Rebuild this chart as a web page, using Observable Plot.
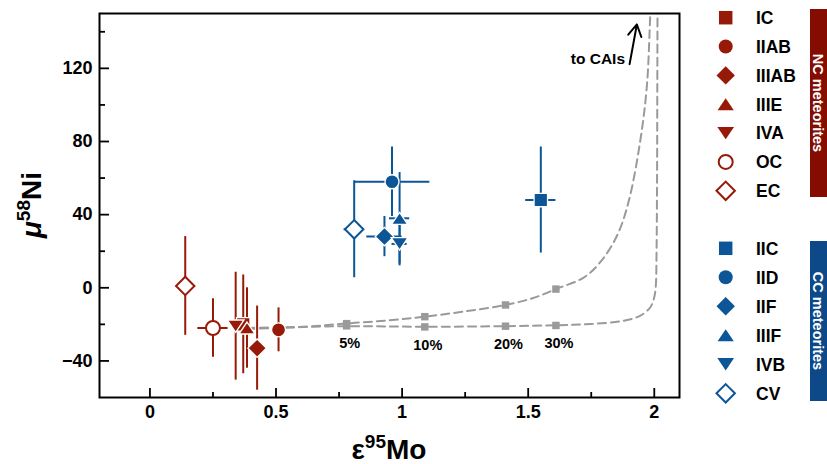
<!DOCTYPE html>
<html><head><meta charset="utf-8">
<script src="https://cdn.jsdelivr.net/npm/d3@7"></script>
<script src="https://cdn.jsdelivr.net/npm/@observablehq/plot@0.6"></script>
<style>
body{margin:0;background:#fff;font-family:"Liberation Sans",Arial,sans-serif}
#wrap{position:relative;width:827px;height:464px;overflow:hidden}
</style></head><body><div id="wrap"></div>
<script>
// ---------- data ----------
const ncGroups  = ["IC","IIAB","IIIAB","IIIE","IVA","OC","EC"];
const ncMo      = [0.37, 0.51, 0.425, 0.385, 0.34, 0.25, 0.14];
const ncMoErr   = [0, 0, 0, 0, 0, 0.06, 0];
const ncNi      = [-20, -23, -33, -22, -21, -22, 1];
const ncNiErr   = [27, 12, 23, 22, 29.5, 16, 27];
const ncSymbols = ["square","circle","diamond","triangle","triangleDown","circle","diamond"];
const ncOpen    = [false,false,false,false,false,true,true];

const ccGroups  = ["IIC","IID","IIF","IIIF","IVB","CV"];
const ccMo      = [1.55, 0.96, 0.93, 0.99, 0.99, 0.81];
const ccMoErr   = [0.06, 0.15, 0.07, 0.04, 0.03, 0.04];
const ccNi      = [48, 58, 28, 38, 24, 32];
const ccNiErr   = [29, 19, 11, 25, 12, 26.5];
const ccSymbols = ["square","circle","diamond","triangle","triangleDown","diamond"];
const ccOpen    = [false,false,false,false,false,true];

// mixing curves
const mixUpperX = [0.385,0.6,0.78,0.95,1.09,1.25,1.41,1.52,1.61,1.72,1.79,1.854,1.898,1.944,1.971,1.984,1.99];
const mixUpperY = [-22.5,-21.5,-19.5,-17.8,-15.8,-12.9,-9.4,-5.6,-0.7,5.6,14.7,29,47,80,111,149,165];
const mixLowerX = [0.385,0.78,1.09,1.41,1.61,1.75,1.88,1.945,1.985,2.0,2.006,2.009,2.011,2.012,2.013];
const mixLowerY = [-22,-21,-21.3,-21,-20.5,-19.8,-18,-15.2,-10.5,-5,1,20,60,110,165];
const mixMarkX      = [0.78, 1.09, 1.41, 1.61];
const mixMarkUpperY = [-19.6, -15.8, -9.4, -0.7];
const mixMarkLowerY = [-20.8, -21.4, -21, -20.6];
const mixLabels     = ["5%","10%","20%","30%"];

const xTicks = [0, 0.5, 1, 1.5, 2];
const xTickLabels = ["0","0.5","1","1.5","2"];
const xMinorTicks = [0.25, 0.75, 1.25, 1.75];
const yTicks = [-40, 0, 40, 80, 120];
const yTickLabels = ["\u221240","0","40","80","120"];
const yMinorTicks = [-20, 20, 60, 100, 140];

// ---------- styling ----------
const ncColor = "#961a07", ncBar = "#850c00";
const ccColor = "#0c5697", ccBar = "#0d4889";
const mixColor = "#9a9a9a";
const FONT = "'Liberation Sans', Arial, Helvetica, sans-serif";

const triUp = {draw(ctx, size){ const r=Math.sqrt(size/Math.PI), w=1.35*r, h=r; ctx.moveTo(0,-h); ctx.lineTo(w,h); ctx.lineTo(-w,h); ctx.closePath(); }};
const triDown = {draw(ctx, size){ const r=Math.sqrt(size/Math.PI), w=1.35*r, h=r; ctx.moveTo(0,h); ctx.lineTo(w,-h); ctx.lineTo(-w,-h); ctx.closePath(); }};
const symObj = {square: d3.symbolSquare, circle: d3.symbolCircle, diamond: d3.symbolDiamond2, triangle: triUp, triangleDown: triDown};
const symR = {square: 7.6, circle: 7, diamond: 8.3, triangle: 6, triangleDown: 6.2};

function build(groups, mo, moErr, ni, niErr, syms, open, cls, color){
  return groups.map((g,i)=>({group:g, cls, color, mo:mo[i], moErr:moErr[i], ni:ni[i], niErr:niErr[i], sym:syms[i], open:open[i]}));
}
const ncPts = build(ncGroups, ncMo, ncMoErr, ncNi, ncNiErr, ncSymbols, ncOpen, "NC", ncColor);
const ccPts = build(ccGroups, ccMo, ccMoErr, ccNi, ccNiErr, ccSymbols, ccOpen, "CC", ccColor);
const points = [...ncPts, ...ccPts];
const xPts = points.filter(d => d.moErr > 0);

const upper = mixUpperX.map((x,i)=>({x, y:mixUpperY[i]}));
const lower = mixLowerX.map((x,i)=>({x, y:mixLowerY[i]}));
const marks = mixMarkX.map((x,i)=>({x, yu:mixMarkUpperY[i], yl:mixMarkLowerY[i], label:mixLabels[i]}));

const W = 827, H = 464, mL = 99, mT = 13, mR = 148, mB = 67;
const fw = W - mL - mR, fh = H - mT - mB;

const dotMarks = points.map(p => Plot.dot([p], {
  x: "mo", y: "ni", symbol: symObj[p.sym], r: symR[p.sym],
  fill: p.open ? "white" : p.color,
  stroke: p.open ? p.color : "white",
  strokeWidth: p.open ? 2 : 1.3
}));

const chart = Plot.plot({
  width: W, height: H,
  marginLeft: mL, marginTop: mT, marginRight: mR, marginBottom: mB,
  x: {domain: [-0.2, 2.1], axis: null},
  y: {domain: [-60, 150], axis: null},
  style: {fontFamily: FONT, background: "white", overflow: "visible"},
  marks: [
    // mixing lines
    Plot.line(upper, {x:"x", y:"y", curve:"catmull-rom", stroke: mixColor, strokeWidth: 2, strokeDasharray: "8,5", clip: true}),
    Plot.line(lower, {x:"x", y:"y", curve:"catmull-rom", stroke: mixColor, strokeWidth: 2, strokeDasharray: "8,5", clip: true}),
    Plot.dot(marks, {x:"x", y:"yu", symbol:"square", r:4.2, fill: mixColor}),
    Plot.dot(marks, {x:"x", y:"yl", symbol:"square", r:4.2, fill: mixColor}),
    Plot.text(marks, {x:"x", y:"yl", text:"label", dy: 18, dx: 3, fontSize: 14.5, fontWeight: "bold", fill: "black"}),
    // error bars: white halos then colored
    Plot.ruleX(points, {x:"mo", y1: d=>d.ni-d.niErr, y2: d=>d.ni+d.niErr, stroke: "white", strokeWidth: 4}),
    Plot.ruleY(xPts, {y:"ni", x1: d=>d.mo-d.moErr, x2: d=>d.mo+d.moErr, stroke: "white", strokeWidth: 4}),
    Plot.ruleX(points, {x:"mo", y1: d=>d.ni-d.niErr, y2: d=>d.ni+d.niErr, stroke: "color", strokeWidth: 2}),
    Plot.ruleY(xPts, {y:"ni", x1: d=>d.mo-d.moErr, x2: d=>d.mo+d.moErr, stroke: "color", strokeWidth: 2}),
    ...dotMarks,
    // annotation
    Plot.arrow([{x1:1.902, y1:122.3, x2:1.931, y2:144}], {x1:"x1", y1:"y1", x2:"x2", y2:"y2", stroke:"black", strokeWidth: 2, headLength: 10}),
    Plot.text(["to CAIs"], {x: 1.884, y: 125, text: d=>d, textAnchor: "end", fontSize: 15.5, fontWeight: "bold", fill: "black"}),
    // ticks (inward)
    Plot.ruleX(xTicks, {x: d=>d, insetTop: fh-9, stroke: "black", strokeWidth: 1.8}),
    Plot.ruleX(xMinorTicks, {x: d=>d, insetTop: fh-5, stroke: "black", strokeWidth: 1.8}),
    Plot.ruleY(yTicks, {y: d=>d, insetRight: fw-10, stroke: "black", strokeWidth: 1.8}),
    Plot.ruleY(yMinorTicks, {y: d=>d, insetRight: fw-6, stroke: "black", strokeWidth: 1.8}),
    Plot.text(xTicks, {x: d=>d, frameAnchor: "bottom", dy: 20, text: (d,i)=>xTickLabels[i], fontSize: 18, fontWeight: "bold", fill: "black"}),
    Plot.text(yTicks, {y: d=>d, frameAnchor: "left", dx: -7, textAnchor: "end", text: (d,i)=>yTickLabels[i], fontSize: 18, fontWeight: "bold", fill: "black"}),
    Plot.frame({stroke: "black", strokeWidth: 2})
  ]
});
document.getElementById("wrap").appendChild(chart);

// axis titles with superscripts
const svg = d3.select(chart);
const xt = svg.append("text").attr("x", mL + fw/2).attr("y", H - 5)
  .attr("text-anchor", "middle").attr("font-family", FONT).attr("font-weight", "bold").attr("font-size", 28).attr("fill","black");
xt.append("tspan").text("\u03b5");
xt.append("tspan").attr("dy", -11).attr("font-size", 19).text("95");
xt.append("tspan").attr("dy", 11).text("Mo");

const yt = svg.append("text").attr("transform", `translate(41,${mT + fh/2}) rotate(-90)`)
  .attr("text-anchor", "middle").attr("font-family", FONT).attr("font-weight", "bold").attr("font-size", 28).attr("fill","black");
yt.append("tspan").attr("font-style", "italic").text("\u03bc");
yt.append("tspan").attr("dy", -11).attr("font-size", 19).text("58");
yt.append("tspan").attr("dy", 11).text("Ni");

// legend overlay
const leg = d3.select("#wrap").append("svg").attr("width", W).attr("height", H)
  .style("position","absolute").style("left","0px").style("top","0px");
function legendBlock(pts, y0, step, barY0, barY1, barColor, title){
  pts.forEach((p,i) => {
    const y = y0 + i*step;
    leg.append("path").attr("transform", `translate(725.7,${y})`)
      .attr("d", d3.symbol(symObj[p.sym], Math.PI*symR[p.sym]*symR[p.sym])())
      .attr("fill", p.open ? "white" : p.color)
      .attr("stroke", p.open ? p.color : "none")
      .attr("stroke-width", p.open ? 2 : 0);
    leg.append("text").attr("x", 756).attr("y", y).attr("dy", "0.36em")
      .attr("font-family", FONT).attr("font-weight", "bold").attr("font-size", 17.5).attr("fill","black").text(p.group);
  });
  leg.append("rect").attr("x", 810).attr("y", barY0).attr("width", 20).attr("height", barY1 - barY0).attr("fill", barColor);
  leg.append("text").attr("transform", `translate(818.5,${(barY0+barY1)/2}) rotate(90)`)
    .attr("text-anchor","middle").attr("dy","0.35em").attr("font-family", FONT).attr("font-weight","bold")
    .attr("font-size", 14.5).attr("fill","white").text(title);
}
legendBlock(ncPts, 17.7, 28.85, 9, 197, ncBar, "NC meteorites");
legendBlock(ccPts, 248.3, 29, 241, 401, ccBar, "CC meteorites");
</script></body></html>
